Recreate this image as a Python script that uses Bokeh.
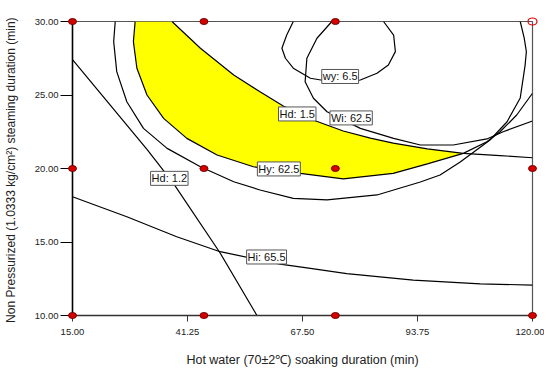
from bokeh.plotting import figure
from bokeh.models import Range1d, FixedTicker, PrintfTickFormatter, Label
from bokeh.embed import file_html
from bokeh.resources import INLINE

# ---- data ----
X_TICKS = [15.0, 41.25, 67.5, 93.75, 120.0]
Y_TICKS = [10.0, 15.0, 20.0, 25.0, 30.0]

# contour Hd = 1.2
HD12_X = [15.0, 32.0, 38.0, 48.7, 57.1]
HD12_Y = [27.4, 21.3, 19.0, 14.25, 10.0]

# contour Hi = 65.5
HI_X = [15.0, 27.4, 38.8, 48.7, 62.4, 69.3, 77.6, 92.8, 108.1, 120.0]
HI_Y = [18.08, 16.72, 15.36, 14.34, 13.5, 13.2, 12.85, 12.4, 12.15, 12.07]

# contour Hd = 1.5 (upper edge of the feasible region)
HD15_X = [37.7, 44.2, 51.8, 57.8, 63.1, 69.3, 76.8, 83.0, 88.2, 96.0, 104.2, 112.6, 120.0]
HD15_Y = [30.0, 28.18, 26.36, 25.22, 24.25, 23.37, 22.55, 22.07, 21.73, 21.33, 21.03, 20.88, 20.73]

# contour Hy = 62.5 (lower edge of the feasible region)
HY_X = [29.3, 28.9, 29.7, 32.0, 35.8, 41.1, 48.0, 56.3, 67.0, 76.8, 88.2, 96.0, 104.2, 109.6, 112.6, 116.4, 120.0]
HY_Y = [30.0, 28.63, 26.82, 25.0, 23.41, 22.05, 20.92, 20.12, 19.67, 19.29, 19.67, 20.31, 21.03, 21.82, 22.5, 23.64, 25.12]

# outer U-shaped contour
OUT_X = [24.75, 24.4, 25.1, 27.4, 31.2, 36.6, 44.2, 51.8, 57.8, 65.4, 73.1, 84.5, 94.4, 98.9, 103.5, 110.3, 114.2, 117.2, 118.3, 118.6, 118.1, 117.2]
OUT_Y = [30.0, 28.63, 26.59, 24.54, 22.73, 21.37, 20.12, 19.1, 18.54, 17.97, 17.86, 18.2, 19.08, 19.56, 20.44, 21.94, 23.18, 24.8, 27.0, 27.95, 28.88, 30.0]

# contour Wi = 62.5
WI_X = [74.2, 70.8, 68.5, 68.1, 70.0, 73.1, 80.7, 88.3, 94.4, 101.9, 109.6, 113.3, 120.0]
WI_Y = [30.0, 28.86, 27.5, 25.9, 24.78, 23.86, 22.73, 22.05, 21.6, 21.6, 22.01, 22.5, 23.23]

# contour wy = 6.5
WY_X = [65.4, 63.9, 62.8, 63.6, 65.4, 69.3, 76.1, 80.7, 84.5, 87.1, 88.7, 88.3, 86.0]
WY_Y = [30.0, 29.08, 28.18, 27.5, 26.82, 26.14, 25.8, 26.02, 26.48, 27.04, 27.95, 29.08, 30.0]

# design points
DP_X = [15, 45, 75, 15, 45, 75, 120, 15, 45, 75, 120]
DP_Y = [30, 30, 30, 20, 20, 20, 20, 10, 10, 10, 10]
OPEN_X = [120]
OPEN_Y = [30]

# contour labels
LBL_TEXT = ["Hd: 1.2", "Hy: 62.5", "Hd: 1.5", "Wi: 62.5", "wy: 6.5", "Hi: 65.5"]
LBL_X = [37.1, 62.1, 66.3, 78.6, 76.1, 59.3]
LBL_Y = [19.33, 19.97, 23.71, 23.44, 26.26, 13.98]

FONT = "Liberation Sans"

p = figure(frame_width=460, frame_height=294,
           x_range=Range1d(15, 120), y_range=Range1d(10, 30),
           output_backend="svg", toolbar_location=None,
           min_border_left=72, min_border_right=12,
           min_border_top=21, min_border_bottom=54)
p.xgrid.visible = False
p.ygrid.visible = False
p.outline_line_color = "#555555"
p.outline_line_width = 1.2
p.background_fill_color = "white"
p.border_fill_color = "white"

# feasible (yellow) region: Hy edge up to the tip, then Hd 1.5 edge back
tip_hy = HY_X.index(104.2)
tip_hd = HD15_X.index(104.2)
reg_x = HY_X[:tip_hy + 1] + HD15_X[:tip_hd][::-1]
reg_y = HY_Y[:tip_hy + 1] + HD15_Y[:tip_hd][::-1]
p.patch(reg_x, reg_y, fill_color="#FFFF00", line_color=None)

for xs, ys in [(HD12_X, HD12_Y), (HI_X, HI_Y), (HD15_X, HD15_Y), (HY_X, HY_Y),
               (OUT_X, OUT_Y), (WI_X, WI_Y), (WY_X, WY_Y)]:
    p.line(xs, ys, line_color="black", line_width=1.2)

r1 = p.ellipse(DP_X, DP_Y, width=8, height=6, width_units="screen", height_units="screen",
               fill_color="#d40000", line_color="#7a0000", line_width=1)
r1.level = "overlay"
r2 = p.ellipse(OPEN_X, OPEN_Y, width=9, height=7, width_units="screen", height_units="screen",
               fill_color=None, line_color="#e00000", line_width=1.2)
r2.level = "overlay"

for t, x, y in zip(LBL_TEXT, LBL_X, LBL_Y):
    p.add_layout(Label(x=x, y=y, text=t, text_align="center", text_baseline="middle",
                       text_font=FONT, text_font_size="11px", text_color="#111111",
                       background_fill_color="white", border_line_color="#555555",
                       border_line_width=1, padding=1))

xa = p.xaxis[0]
xa.ticker = FixedTicker(ticks=X_TICKS)
xa.formatter = PrintfTickFormatter(format="%.2f")
xa.major_tick_out = 6
xa.major_tick_in = 0
xa.minor_tick_line_color = None
xa.major_label_standoff = 7
xa.major_label_text_font = FONT
xa.major_label_text_font_size = "9.5px"
xa.major_label_text_color = "#222222"
xa.axis_line_color = "#333333"
xa.axis_line_width = 1.3
xa.major_tick_line_color = "#333333"
xa.axis_label = "Hot water (70\u00b12\u2103) soaking duration (min)"
xa.axis_label_standoff = 15
xa.axis_label_text_font = FONT
xa.axis_label_text_font_style = "normal"
xa.axis_label_text_font_size = "12.5px"
xa.axis_label_text_color = "#222222"

ya = p.yaxis[0]
ya.ticker = FixedTicker(ticks=Y_TICKS)
ya.formatter = PrintfTickFormatter(format="%.2f")
ya.major_tick_out = 12
ya.major_tick_in = 0
ya.minor_tick_line_color = None
ya.major_label_standoff = 2
ya.major_label_text_font = FONT
ya.major_label_text_font_size = "9.5px"
ya.major_label_text_color = "#222222"
ya.axis_line_color = "black"
ya.axis_line_width = 1.5
ya.major_tick_line_color = "black"
ya.axis_label = "Non Pressurized  (1.0333 kg/cm\u00b2) steaming duration (min)"
ya.axis_label_standoff = 14
ya.axis_label_text_font = FONT
ya.axis_label_text_font_style = "normal"
ya.axis_label_text_font_size = "12px"
ya.axis_label_text_color = "#222222"

open("out.html", "w").write(file_html(p, INLINE))
